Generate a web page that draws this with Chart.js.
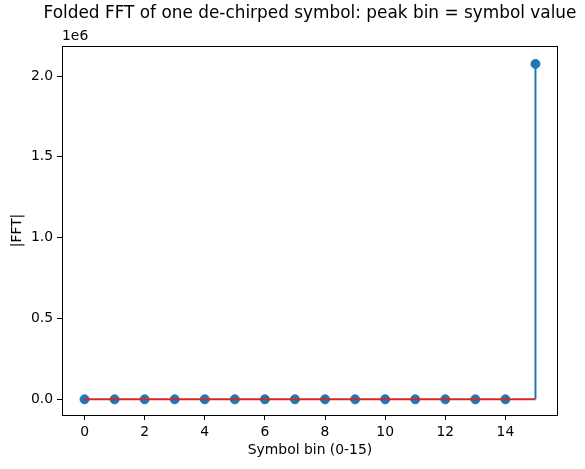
<!DOCTYPE html>
<html>
<head>
<meta charset="utf-8">
<script src="https://cdn.jsdelivr.net/npm/chart.js@4.4.1/dist/chart.umd.min.js"></script>
<style>
    html, body { margin: 0; padding: 0; background: #fff; }
    #wrap { width: 585px; height: 469px; }
</style>
</head>
<body>
<div id="wrap"><canvas id="grafico" width="585" height="469"></canvas></div>
<script>
const bins = [0, 1, 2, 3, 4, 5, 6, 7, 8, 9, 10, 11, 12, 13, 14, 15];
const magnitudes = [0, 0, 0, 0, 0, 0, 0, 0, 0, 0, 0, 0, 0, 0, 0, 2075000];
const xTicks = [0, 2, 4, 6, 8, 10, 12, 14];
const yTicks = [0, 500000, 1000000, 1500000, 2000000];

const titulo = 'Folded FFT of one de-chirped symbol: peak bin = symbol value';
const fuente = 'DejaVu Sans';

Chart.defaults.color = '#000';
Chart.defaults.font.family = fuente;

// stems + frame + title + offset text
const stemPlugin = {
    id: 'stems',
    beforeDatasetsDraw: function (chart) {
        const meta = chart.getDatasetMeta(1);
        const y0 = chart.scales.y.getPixelForValue(0);
        const ctx = chart.ctx;
        ctx.save();
        ctx.strokeStyle = '#1f77b4';
        ctx.lineWidth = 2;
        meta.data.forEach(function (pt) {
            ctx.beginPath();
            ctx.moveTo(pt.x, y0);
            ctx.lineTo(pt.x, pt.y);
            ctx.stroke();
        });
        ctx.restore();
    },
    afterDraw: function (chart) {
        const a = chart.chartArea;
        const ctx = chart.ctx;
        ctx.save();
        ctx.strokeStyle = '#000';
        ctx.lineWidth = 1;
        ctx.strokeRect(Math.round(a.left) + 0.5, Math.round(a.top) + 0.5,
            Math.round(a.right - a.left) - 1, Math.round(a.bottom - a.top));
        ctx.fillStyle = '#000';
        ctx.textAlign = 'center';
        ctx.textBaseline = 'middle';
        ctx.font = '16.9px ' + fuente;
        ctx.fillText(titulo, (a.left + a.right) / 2, 14);
        ctx.textAlign = 'left';
        ctx.font = '13.9px ' + fuente;
        ctx.fillText('1e6', a.left, 36);
        ctx.restore();
    }
};

new Chart(document.getElementById('grafico').getContext('2d'), {
    type: 'scatter',
    data: {
        datasets: [
            {
                type: 'line',
                label: 'baseline',
                data: [{ x: bins[0], y: 0 }, { x: bins[bins.length - 1], y: 0 }],
                borderColor: '#d62728',
                borderWidth: 2,
                pointRadius: 0,
                fill: false
            },
            {
                label: '|FFT|',
                data: bins.map(function (b, i) { return { x: b, y: magnitudes[i] }; }),
                backgroundColor: '#1f77b4',
                borderColor: '#1f77b4',
                pointRadius: 4.5,
                pointHoverRadius: 4.5
            }
        ]
    },
    plugins: [stemPlugin],
    options: {
        responsive: false,
        animation: false,
        layout: { padding: { top: 46, right: 27, left: 0, bottom: 0 } },
        scales: {
            x: {
                type: 'linear',
                min: -0.75,
                max: 15.75,
                afterBuildTicks: function (s) { s.ticks = xTicks.map(function (v) { return { value: v }; }); },
                afterFit: function (s) { s.height = 54; },
                ticks: { padding: 4, font: { size: 13.9 }, maxRotation: 0, autoSkip: false },
                grid: { drawOnChartArea: false, tickLength: 5, tickColor: '#000' },
                border: { display: false },
                title: {
                    display: true,
                    text: 'Symbol bin (0-15)',
                    font: { size: 13.9 },
                    padding: { top: 0, bottom: 10 }
                }
            },
            y: {
                min: -97000,
                max: 2186000,
                afterBuildTicks: function (s) { s.ticks = yTicks.map(function (v) { return { value: v }; }); },
                afterFit: function (s) { s.width = 62; },
                ticks: {
                    padding: 4,
                    font: { size: 13.9 },
                    autoSkip: false,
                    callback: function (v) { return (v / 1e6).toFixed(1); }
                },
                grid: { drawOnChartArea: false, tickLength: 5, tickColor: '#000' },
                border: { display: false },
                title: {
                    display: true,
                    text: '|FFT|',
                    font: { size: 13.9 },
                    padding: { top: 9, bottom: 0 }
                }
            }
        },
        plugins: {
            legend: { display: false },
            tooltip: { enabled: false }
        }
    }
});
</script>
</body>
</html>
